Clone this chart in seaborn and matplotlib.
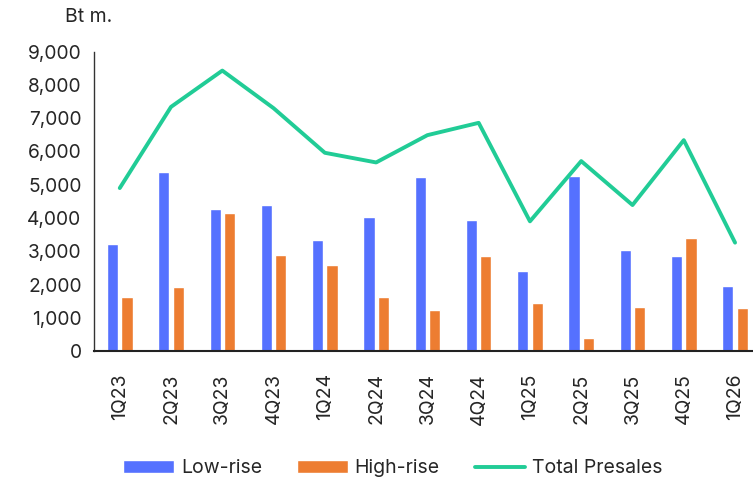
import numpy as np
import pandas as pd
import matplotlib
matplotlib.use('Agg')
import matplotlib.pyplot as plt
import seaborn as sns

# Quarterly presales, Bt m.
quarters = ['1Q23', '2Q23', '3Q23', '4Q23', '1Q24', '2Q24', '3Q24',
            '4Q24', '1Q25', '2Q25', '3Q25', '4Q25', '1Q26']
low_rise = [3230, 5370, 4260, 4380, 3340, 4020, 5230, 3940, 2400, 5270, 3030, 2870, 1960]
high_rise = [1640, 1920, 4140, 2880, 2590, 1620, 1230, 2860, 1460, 390, 1320, 3410, 1290]
total_presales = [4900, 7340, 8430, 7300, 5960, 5670, 6490, 6860, 3900, 5710, 4390, 6340, 3260]

sns.set_style('white')
plt.rcParams['font.family'] = ['Inter', 'DejaVu Sans']

df = pd.DataFrame({
    'quarter': quarters * 2,
    'value': low_rise + high_rise,
    'type': ['Low-rise'] * len(quarters) + ['High-rise'] * len(quarters),
})

fig = plt.figure(figsize=(7.53, 4.87), dpi=100)
ax = fig.add_axes([0.125, 0.279, 0.875, 0.615])

sns.barplot(data=df, x='quarter', y='value', hue='type', order=quarters,
            hue_order=['Low-rise', 'High-rise'],
            palette=['#5571FF', '#ED7D31'], width=0.56, gap=0.22,
            saturation=1, ax=ax)
sns.lineplot(x=np.arange(len(quarters)), y=total_presales, color='#21CC96',
             linewidth=2.8, label='Total Presales', ax=ax)

ax.set_ylim(0, 9000)
ax.set_xlim(-0.5, 12.35)
ax.set_yticks(range(0, 9001, 1000))
ax.set_yticklabels([f'{v:,}' for v in range(0, 9001, 1000)], fontsize=13.8)
ax.set_xticks(range(len(quarters)))
ax.set_xticklabels(quarters, rotation=90, fontsize=14)
ax.tick_params(axis='y', length=0, pad=9)
ax.tick_params(axis='x', length=0, pad=16)
ax.set_xlabel('')
ax.set_ylabel('')
for s in ['top', 'right']:
    ax.spines[s].set_visible(False)
ax.spines['left'].set_color('#333333')
ax.spines['left'].set_linewidth(1.0)
ax.spines['bottom'].set_color('#222222')
ax.spines['bottom'].set_linewidth(1.5)

fig.text(0.086, 0.965, 'Bt m.', fontsize=14, va='center', ha='left')

ax.legend_.remove()
handles, labels = ax.get_legend_handles_labels()
fig.legend(handles, labels, loc='center', bbox_to_anchor=(0.522, 0.038), ncol=3,
           frameon=False, fontsize=14, handlelength=2.6, handleheight=0.7,
           handletextpad=0.36, columnspacing=1.8)

fig.savefig('out.png', dpi=100)
